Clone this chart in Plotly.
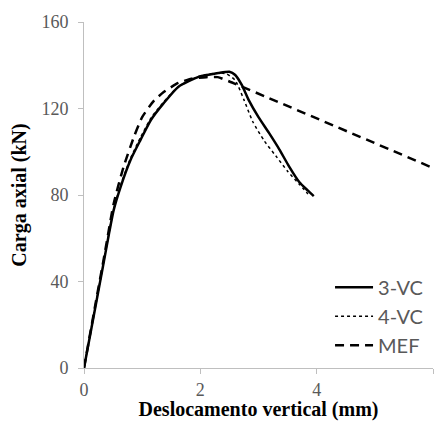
import plotly.graph_objects as go

# Load-displacement curves (axial load in kN vs vertical displacement in mm)
x_3vc = [0, 0.17, 0.325, 0.42, 0.51, 0.63, 0.80, 0.97, 1.15, 1.37, 1.62, 1.97, 2.31, 2.50,
         2.60, 2.71, 2.83, 3.00, 3.18, 3.36, 3.53, 3.70, 3.85, 3.95]
y_3vc = [0, 24.5, 46.8, 60.7, 73, 83.8, 96.2, 105.4, 114.7, 122.5, 130, 134.6, 136.4, 137,
         135.5, 131, 124, 116, 108.7, 101, 93, 86, 82, 79.5]

x_4vc = [0, 0.17, 0.325, 0.42, 0.51, 0.63, 0.80, 0.97, 1.15, 1.37, 1.62, 1.97, 2.30, 2.45,
         2.60, 2.75, 2.90, 3.10, 3.30, 3.50, 3.70, 3.85]
y_4vc = [0, 25, 47, 61, 73.5, 84.5, 97, 106.5, 115.5, 123, 130, 134.8, 136.5, 136,
         133, 124, 114, 105, 98, 91, 85, 80.5]

x_mef = [0, 0.20, 0.35, 0.51, 0.68, 0.86, 1.00, 1.20, 1.37, 1.62, 1.85, 2.10, 2.30, 2.50, 6.0]
y_mef = [0, 30, 52, 76, 93, 107, 116, 123.5, 127.6, 131.8, 133.8, 134.5, 134.5, 132.5, 92.5]

x_ticks = [0, 2, 4, 6]
y_ticks = [0, 40, 80, 120, 160]

fig = go.Figure()
fig.add_trace(go.Scatter(x=x_3vc, y=y_3vc, mode="lines", name="3-VC", legendgroup="a",
                         line=dict(color="black", width=2.5, shape="spline", smoothing=0.6)))
fig.add_trace(go.Scatter(x=x_4vc, y=y_4vc, mode="lines", name="4-VC", legendgroup="b",
                         line=dict(color="black", width=1.5, dash="dot", shape="spline", smoothing=0.6)))
fig.add_trace(go.Scatter(x=x_mef, y=y_mef, mode="lines", name="MEF", legendgroup="c",
                         line=dict(color="black", width=2.5, dash="9px,6px", shape="spline", smoothing=0.5)))

axis_common = dict(
    showgrid=False, zeroline=False, showline=True, linecolor="#BFBFBF", linewidth=1,
    ticks="outside", tickcolor="#BFBFBF", ticklen=5, tickwidth=1,
    tickfont=dict(family="Liberation Serif", size=18, color="#595959"),
)

fig.update_xaxes(range=[0, 6], tickvals=x_ticks, **axis_common,
                 title=dict(text="<b>Deslocamento vertical (mm)</b>", standoff=3,
                            font=dict(family="Liberation Serif", size=20, color="black")))
fig.update_yaxes(range=[0, 160], tickvals=y_ticks, ticklabelstandoff=6, **axis_common,
                 title=dict(text="<b>Carga axial (kN)</b>", standoff=9,
                            font=dict(family="Liberation Serif", size=20, color="black")))

fig.update_layout(
    width=435, height=421,
    margin=dict(l=84, r=2, t=22, b=53),
    paper_bgcolor="white", plot_bgcolor="white",
    showlegend=True,
    legend=dict(x=0.705, y=0.29, xanchor="left", yanchor="top", bgcolor="rgba(0,0,0,0)",
                tracegroupgap=0, itemwidth=38,
                font=dict(family="Lato", size=20, color="#595959")),
)

fig.write_html("out.html")
